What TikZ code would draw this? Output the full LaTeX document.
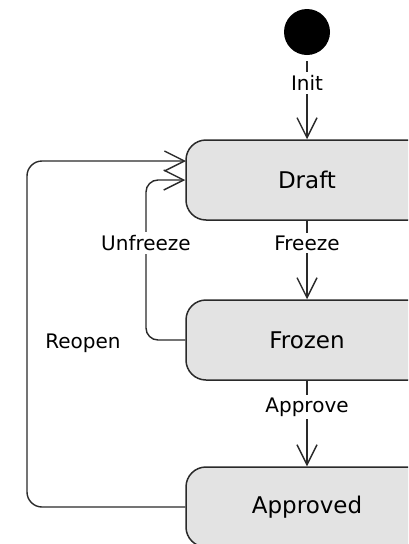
\documentclass[tikz,border=0pt]{standalone}
\usepackage{fontspec}
\setmainfont{DejaVu Sans}
\usetikzlibrary{arrows.meta}
\definecolor{stfill}{HTML}{E3E3E3}
\definecolor{ln}{HTML}{2A2A2A}
\tikzset{
  state/.style={draw=ln, line width=1.5pt, fill=stfill, rectangle, rounded corners=20pt,
    minimum width=242pt, minimum height=80pt, inner sep=0pt,
    font=\fontsize{23}{27}\selectfont},
  trans/.style={draw=ln, line width=1.4pt, -{Straight Barb[length=20pt,width=20pt,line width=1.4pt]}},
  lbl/.style={fill=white, inner sep=3pt, font=\fontsize{20}{24}\selectfont},
  freelbl/.style={inner sep=0pt, font=\fontsize{20}{24}\selectfont},
}
\begin{document}
\begin{tikzpicture}[x=1pt,y=-1pt]
\clip (0,0) rectangle (408,544);
\fill[white] (0,0) rectangle (408,544);

\node[circle, fill=black, minimum size=46pt, inner sep=0pt] (init) at (307,32) {};
\node[state] (draft) at (307,180) {Draft};
\node[state] (frozen) at (307,340) {Frozen};
\node[state] (approved) at (307,507) {Approved};

% Init
\draw[trans, shorten <=6pt] (init) -- (draft);
\node[lbl] (linit) at (307,83) {Init};

% Freeze
\draw[trans] (draft) -- (frozen);
\node[lbl] (lfreeze) at (307,243) {Freeze};

% Approve
\draw[trans] (frozen) -- (approved);
\node[lbl] (lapprove) at (307,407) {Approve};

% Unfreeze
\coordinate (uf1) at (146,340);
\coordinate (uf2) at (146,180);
\draw[trans, rounded corners=12pt] (frozen.west) -- (uf1) -- (uf2) -- (draft.west);
\node[lbl] (lunfreeze) at (146,243) {Unfreeze};

% Reopen
\coordinate (ro1) at (27,507);
\coordinate (ro2) at (27,161);
\coordinate (ro3) at (186,161);
\draw[trans, rounded corners=15pt] (approved.west) -- (ro1) -- (ro2) -- (ro3);
\node[freelbl] (lreopen) at (83,343) {Reopen};
\end{tikzpicture}
\end{document}
